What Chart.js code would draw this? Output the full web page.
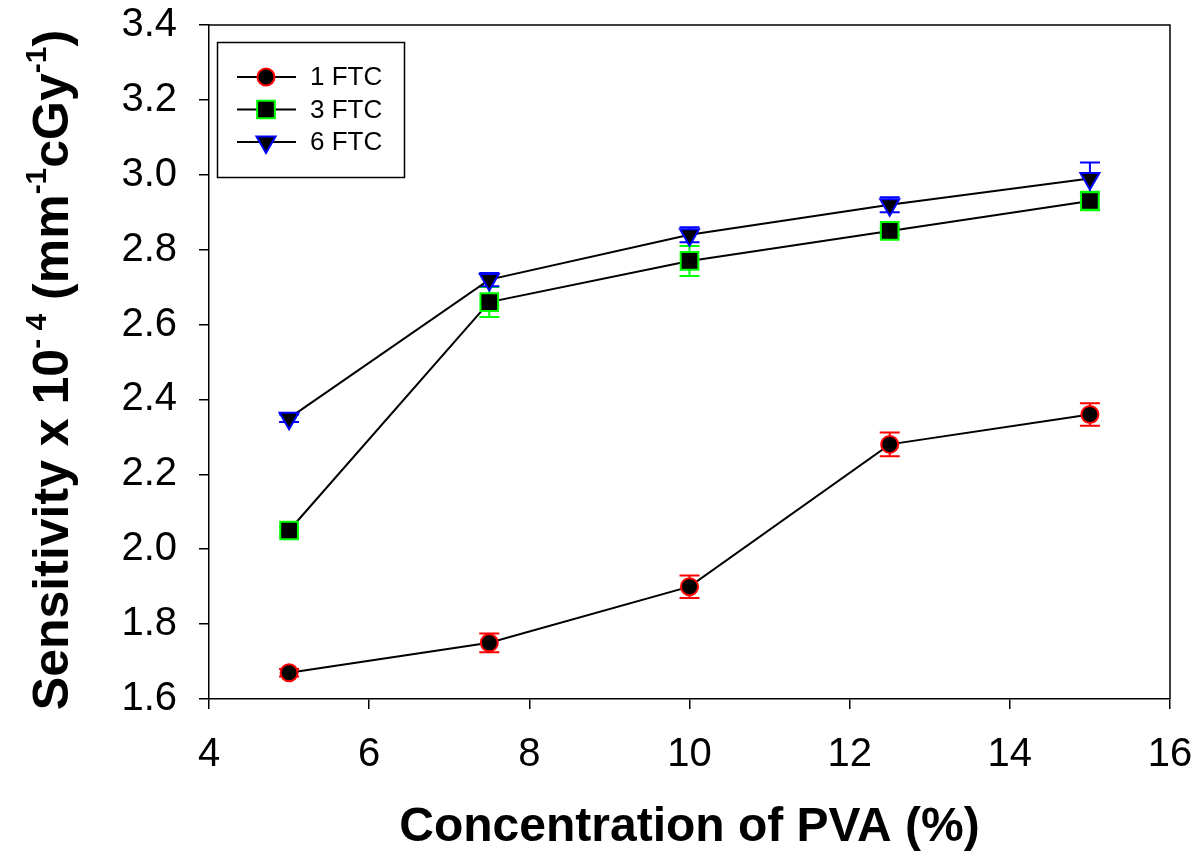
<!DOCTYPE html>
<html>
<head>
<meta charset="utf-8">
<script src="https://cdn.jsdelivr.net/npm/chart.js@4.4.1/dist/chart.umd.min.js"></script>
<style>
    html, body { margin: 0; padding: 0; background: #fff; }
    #wrap { width: 1199px; height: 855px; }
</style>
</head>
<body>
<div id="wrap"><canvas id="sensChart" width="1199" height="855"></canvas></div>
<script>
// Datos
const concentraciones = [5, 7.5, 10, 12.5, 15];
const ftc1 = [1.67, 1.75, 1.90, 2.28, 2.36];
const ftc1Err = [0.01, 0.025, 0.03, 0.032, 0.03];
const ftc3 = [2.05, 2.66, 2.77, 2.85, 2.93];
const ftc3Err = [0.01, 0.04, 0.04, 0.01, 0.025];
const ftc6 = [2.35, 2.72, 2.84, 2.92, 2.99];
const ftc6Err = [0.01, 0.018, 0.02, 0.02, 0.043];
const etiquetasSerie = ['1 FTC', '3 FTC', '6 FTC'];
const tituloX = 'Concentration of PVA (%)';
// titulo Y: [texto, es superindice]
const tituloY = [['Sensitivity x 10', false], ['- 4', true], [' (mm', false], ['-1', true], ['cGy', false], ['-1', true], [')', false]];

const FUENTE = '"Liberation Sans", Arial, sans-serif';

function puntos(valores) {
    return concentraciones.map((x, i) => ({ x: x, y: valores[i] }));
}

const series = [
    { label: etiquetasSerie[0], data: puntos(ftc1), err: ftc1Err, color: '#ff0000', style: 'circle', radius: 8.5, rotation: 0 },
    { label: etiquetasSerie[1], data: puntos(ftc3), err: ftc3Err, color: '#00ff00', style: 'rect', radius: 12.5, rotation: 0 },
    { label: etiquetasSerie[2], data: puntos(ftc6), err: ftc6Err, color: '#0000ff', style: 'triangle', radius: 11, rotation: 180 }
];

// Barras de error (por debajo de los marcadores)
const barrasError = {
    id: 'barrasError',
    beforeDatasetsDraw(chart) {
        const ctx = chart.ctx;
        const sx = chart.scales.x, sy = chart.scales.y;
        ctx.save();
        ctx.lineWidth = 2;
        series.forEach(s => {
            ctx.strokeStyle = s.color;
            s.data.forEach((p, i) => {
                const px = sx.getPixelForValue(p.x);
                const yTop = sy.getPixelForValue(p.y + s.err[i]);
                const yBot = sy.getPixelForValue(p.y - s.err[i]);
                ctx.beginPath();
                ctx.moveTo(px, yTop); ctx.lineTo(px, yBot);
                ctx.moveTo(px - 10, yTop); ctx.lineTo(px + 10, yTop);
                ctx.moveTo(px - 10, yBot); ctx.lineTo(px + 10, yBot);
                ctx.stroke();
            });
        });
        ctx.restore();
    }
};

// Marco, leyenda y titulo del eje Y
const extras = {
    id: 'extras',
    afterDraw(chart) {
        const ctx = chart.ctx;
        const a = chart.chartArea;
        ctx.save();
        ctx.strokeStyle = '#000';
        ctx.lineWidth = 1.5;
        ctx.beginPath();
        ctx.moveTo(a.left, a.top); ctx.lineTo(a.right, a.top); ctx.lineTo(a.right, a.bottom);
        ctx.stroke();

        // leyenda
        const lx = a.left + 8, ly = a.top + 17;
        ctx.lineWidth = 1.5;
        ctx.strokeRect(lx + 0.5, ly + 0.5, 187, 135);
        series.forEach((s, i) => {
            const y = ly + 35 + i * 32.5;
            ctx.strokeStyle = '#000';
            ctx.lineWidth = 2;
            ctx.beginPath();
            ctx.moveTo(lx + 20, y); ctx.lineTo(lx + 79, y);
            ctx.stroke();
            ctx.fillStyle = '#000';
            ctx.strokeStyle = s.color;
            ctx.lineWidth = 2;
            Chart.helpers.drawPoint(ctx, { pointStyle: s.style, radius: s.radius, rotation: s.rotation, borderWidth: 2 }, lx + 49, y);
            ctx.fillStyle = '#000';
            ctx.font = '26px ' + FUENTE;
            ctx.textBaseline = 'middle';
            ctx.textAlign = 'left';
            ctx.fillText(s.label, lx + 93, y + 1);
        });

        // titulo Y con superindices
        const tam = 50, tamSup = 30;
        const fMain = 'bold ' + tam + 'px ' + FUENTE;
        const fSup = 'bold ' + tamSup + 'px ' + FUENTE;
        let total = 0;
        tituloY.forEach(([t, sup]) => { ctx.font = sup ? fSup : fMain; total += ctx.measureText(t).width; });
        ctx.translate(68, (a.top + a.bottom) / 2 + 8);
        ctx.rotate(-Math.PI / 2);
        ctx.textAlign = 'left';
        ctx.textBaseline = 'alphabetic';
        ctx.fillStyle = '#000';
        let x = -total / 2;
        tituloY.forEach(([t, sup]) => {
            ctx.font = sup ? fSup : fMain;
            ctx.fillText(t, x, sup ? -22 : 0);
            x += ctx.measureText(t).width;
        });
        ctx.restore();
    }
};

const ctx = document.getElementById('sensChart').getContext('2d');
new Chart(ctx, {
    type: 'line',
    data: {
        datasets: series.map(s => ({
            label: s.label,
            data: s.data,
            borderColor: '#000',
            borderWidth: 2,
            tension: 0,
            fill: false,
            pointStyle: s.style,
            pointRadius: s.radius,
            pointRotation: s.rotation,
            pointBackgroundColor: '#000',
            pointBorderColor: s.color,
            pointBorderWidth: 2
        }))
    },
    options: {
        responsive: false,
        animation: false,
        layout: { padding: { top: 25, right: 29, left: 0, bottom: 0 } },
        plugins: {
            legend: { display: false },
            tooltip: { enabled: false }
        },
        scales: {
            x: {
                type: 'linear',
                min: 4, max: 16,
                afterFit: (scale) => {
                    scale.height = 156;
                    scale.paddingLeft = 0;
                    scale.paddingRight = 0;
                },
                ticks: {
                    stepSize: 2,
                    color: '#000',
                    padding: 22,
                    font: { family: FUENTE, size: 40 }
                },
                grid: { drawOnChartArea: false, drawTicks: true, tickLength: 10, color: '#000', lineWidth: 1.5 },
                border: { color: '#000', width: 1.5 },
                title: {
                    display: true,
                    text: tituloX,
                    color: '#000',
                    font: { family: FUENTE, size: 48, weight: 'bold', lineHeight: 1 },
                    padding: { top: 0, bottom: 3 }
                }
            },
            y: {
                min: 1.6, max: 3.4,
                afterFit: (scale) => {
                    scale.width = 209;
                    scale.paddingTop = 0;
                    scale.paddingBottom = 0;
                },
                ticks: {
                    stepSize: 0.2,
                    color: '#000',
                    padding: 22,
                    font: { family: FUENTE, size: 40 },
                    callback: (v) => v.toFixed(1)
                },
                grid: { drawOnChartArea: false, drawTicks: true, tickLength: 10, color: '#000', lineWidth: 1.5 },
                border: { color: '#000', width: 1.5 }
            }
        }
    },
    plugins: [barrasError, extras]
});
</script>
</body>
</html>
